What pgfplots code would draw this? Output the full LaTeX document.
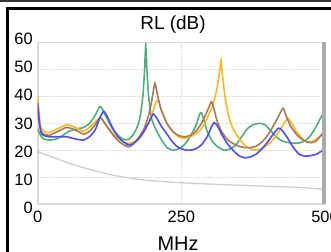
\documentclass[border=0pt]{standalone}
\usepackage{fontspec}
\setmainfont{Liberation Sans}
\usepackage{pgfplots}
\pgfplotsset{compat=1.18}
\definecolor{cgreen}{HTML}{52AE80}
\definecolor{corange}{HTML}{F7B82C}
\definecolor{cbrown}{HTML}{A87A5C}
\definecolor{cblue}{HTML}{5050EE}
\definecolor{cgray}{HTML}{CDCDCD}
\begin{document}
\begin{tikzpicture}
\useasboundingbox (0,0) rectangle (331bp,252bp);
\clip (0,0) rectangle (331bp,252bp);
\fill[white] (0,0) rectangle (331bp,252bp);
\begin{axis}[
  at={(37.7bp,48bp)}, anchor=south west,
  scale only axis, width=287.3bp, height=161.3bp,
  xmin=0, xmax=500, ymin=0, ymax=60,
  xtick={0,250,500}, ytick={0,10,20,30,40,50,60},
  major tick length=0pt,
  axis line style={draw=black!15, line width=1.6bp},
  grid=major, grid style={densely dotted, black!12, line width=0.6bp},
  ticklabel style={font=\fontsize{16.5}{16.5}\selectfont},
  /pgf/number format/assume math mode=true,
  yticklabel style={xshift=-1.5bp, yshift={(\ticknum-3)*1.4bp}},
  xticklabel style={yshift=-3.5bp},
  every axis plot/.append style={line width=1.6bp, smooth, tension=0.35, mark=none},
]
\addplot[cgray, line width=1.3bp] coordinates {
(0,19.5) (25,17.5) (50,15.5) (75,13.8) (100,12.3) (125,11) (150,10) (175,9.2) (200,8.6) (250,7.9) (300,7.4) (350,7) (400,6.6) (450,6.2) (500,5.5)};
\addplot[cgreen] coordinates {
(0,28) (5,25.5) (10,24.2) (20,23.8) (30,24) (40,25) (50,26.5) (60,27.5) (70,28) (80,28.5) (90,30) (100,33) (108,36.2) (112,35.5) (120,32) (130,28) (140,25.5) (150,24) (158,24) (165,25.5) (172,28) (178,32) (183,40) (186,50) (188,59) (190,50) (193,40) (198,32) (205,28) (215,24) (225,21) (235,20) (245,20.5) (255,22) (265,25) (275,29) (282,33.5) (285,34) (288,32) (295,27) (305,23) (315,21) (325,20) (335,20.5) (345,22) (355,25) (365,28) (375,29.5) (387,30) (395,29.5) (405,27.5) (415,25) (425,23.5) (440,22.7) (455,22.7) (465,23.5) (475,25.5) (485,29) (495,33) (500,34.3)};
\addplot[corange] coordinates {
(0,40) (2,35) (5,29) (10,27) (20,26.5) (30,27.5) (40,28.5) (50,29.5) (60,29) (70,28) (80,27) (90,28.5) (100,30.5) (108,32) (112,31.5) (120,29) (130,26.5) (140,24.5) (150,23) (160,22.5) (170,23.5) (180,25.5) (190,29) (200,34) (206,38) (210,38.5) (215,35) (225,30) (235,27) (245,25) (255,24.5) (265,25) (275,26) (285,28) (295,32) (305,37) (312,43) (317,50) (319,53.5) (322,47) (326,40) (332,33) (340,28) (350,24.5) (360,22) (370,20.5) (380,20) (390,20.5) (400,22) (410,24) (420,27) (430,30.5) (436,31.8) (442,30) (450,27) (460,24.5) (470,23) (480,23.5) (490,25) (500,27)};
\addplot[cbrown] coordinates {
(0,35) (3,30) (6,27) (10,26) (20,25.5) (30,26.5) (40,27.5) (50,28.5) (60,28) (70,27) (80,26) (90,27) (100,29.5) (108,32) (112,31.5) (120,29) (130,26) (140,23.5) (150,22) (158,21.3) (165,22) (175,24.5) (185,28) (193,33) (199,39) (204,45) (209,40) (215,35) (225,30) (235,27) (245,25.5) (255,25) (265,25.5) (275,27) (285,30) (295,34.5) (302,38) (306,36) (312,31) (320,27) (330,24) (340,22.5) (350,21.5) (360,21) (370,21) (380,21.5) (390,23) (400,25.5) (410,29) (420,33) (427,35.6) (432,33) (440,29) (450,26) (460,24) (470,23) (477,22.8) (485,23.5) (495,26) (500,27)};
\addplot[cblue] coordinates {
(0,37.5) (3,30) (6,26.5) (10,25.5) (20,25) (30,25) (40,25) (50,25) (60,24.5) (70,24) (80,23.8) (90,25) (100,27.5) (108,32) (115,34.5) (120,33) (130,28.5) (140,25) (150,23) (158,22) (165,22.3) (175,24) (185,27) (195,31) (201,33.5) (207,32) (215,29) (225,26) (235,23) (245,21) (255,20.2) (265,20) (275,20.5) (285,22) (295,25) (302,28.5) (307,30.3) (313,29) (320,26) (330,22.5) (340,20) (350,18) (360,17.2) (370,17.5) (380,18.5) (390,20.5) (400,23) (410,26) (419,28.2) (425,27.5) (435,24.5) (445,21) (455,18.5) (465,17.8) (475,18) (485,18.5) (495,19.8) (500,20.3)};
\end{axis}
\fill[black!33] (322bp,48bp) rectangle (325.5bp,209.5bp);
\node[font=\fontsize{19}{19}\selectfont] at (173bp,227bp) {RL (dB)};
\node[font=\fontsize{20}{20}\selectfont] at (178bp,8bp) {MHz};
\fill[black!80] (0,250.4bp) rectangle (331bp,252bp);
\fill[black] (6bp,241.8bp) rectangle (331bp,244.8bp);
\fill[black] (6bp,0) rectangle (9bp,244.8bp);
\end{tikzpicture}
\end{document}
